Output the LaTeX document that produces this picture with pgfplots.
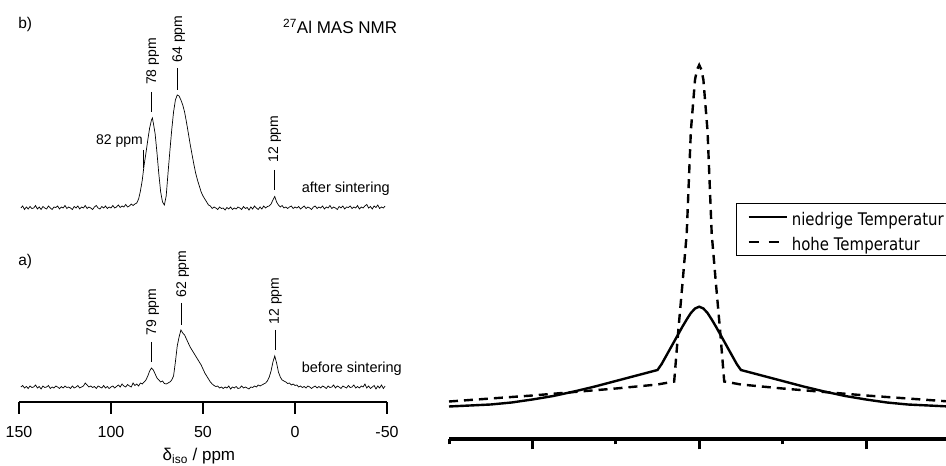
\documentclass[border=0pt]{standalone}
\usepackage{fontspec}
\setmainfont{Liberation Sans}
\newfontfamily\legfont[FakeStretch=0.86]{DejaVu Sans}
\usepackage{pgfplots}
\usepackage{pgfplotstable}
\pgfplotsset{compat=1.18}
\pgfplotsset{
  legsolid/.style={legend image code/.code={\draw[##1] (0pt,0pt) -- (38pt,0pt);}},
  legdash/.style={legend image code/.code={\draw[##1, dash pattern=on 10pt off 10pt] (0pt,0pt) -- (38pt,0pt);}},
}

% b) after sintering, heights in pt above the axis line
\pgfplotstableread{
ppm I
149 194
148 196
147 192.5
146 195
145 193
144 195.5
143 193.5
142 194
141 196.5
140 193
139 195
138 192.5
137 195.5
136 194
135 193
134 196
133 194
132 192.5
131 195
130 194.5
129 196
128 193
127 195
126 194
125 196.5
124 193.5
123 195
122 194
121 192.5
120 195.5
119 194
118 196
117 193
116 195
115 194
114 196.5
113 193.5
112 195
111 194
110 192.5
109 195
108 196.5
107 194
106 193
105 195.5
104 194
103 196
102 193.5
101 195
100 194
99 196.5
98 194
97 195
96 197
95 194.5
94 196
93 195
92 197.5
91 195
90 196
89 198
88 196.5
87 198
86 199
85 203
84 211
83 222
82 237
81 249
80 262
79 274
78 282
77.5 284
77 279
76 268
75 249
74 228
73 210
72 200
71 197
70 206
69 229
68 251
67 272
66 290
65 302
64 307
63 306
62 302
61 297
60 290
59 280
58 269
57 258
56 248
55 238
54 229
53 222
52 216
51 210
50 206
49 203
48 200
47 197
46 196
45 193.5
44 195
43 194
42 192.5
41 195
40 193.5
39 194
38 192
37 194.5
36 193
35 195
34 192.5
33 194
32 193
31 195
30 194
29 192.5
28 195.5
27 193.5
26 194.5
25 192
24 195
23 193
22 196
21 194
20 192.5
19 195
18 193
17 196
16 194
15 195.5
14 196
13 198
12 202
11 205.5
10 200
9 197
8 195
7 196.5
6 194
5 195
4 193.5
3 195
2 196
1 193.5
0 195
-1 194
-2 195.5
-3 193
-4 194.5
-5 196
-6 193.5
-7 195
-8 194
-9 192.5
-10 195
-11 196
-12 193.5
-13 195
-14 194
-15 196
-16 193
-17 195
-18 194
-19 196.5
-20 193.5
-21 195
-22 194
-23 192.5
-24 195.5
-25 194
-26 196
-27 193
-28 195
-29 194.5
-30 196
-31 193.5
-32 195
-33 194
-34 196.5
-35 193
-36 195
-37 194
-38 196
-39 197.5
-40 194
-41 195.5
-42 193
-43 196
-44 194.5
-45 197
-46 193.5
-47 195
-48 194
-49 196
}\spectrumB

% a) before sintering
\pgfplotstableread{
ppm I
149 15
148 16.5
147 14
146 15.5
145 13.5
144 16
143 14.5
142 15
141 17
140 14
139 15.5
138 13
137 16
136 14.5
135 15
134 16.5
133 13.5
132 15
131 14
130 16
129 15
128 13.5
127 15.5
126 14
125 16
124 14.5
123 15
122 13.5
121 16
120 14
119 15
118 16.5
117 14
116 15
115 16
114 19
113 17
112 15
111 16
110 14.5
109 15.5
108 13.5
107 16
106 15
105 14
104 16.5
103 14
102 15.5
101 13.5
100 15
99 16
98 14
97 15.5
96 17
95 15
94 18
93 16
92 15
91 17.5
90 16
89 15
88 19
87 16.5
86 18
85 16
84 19
83 18
82 20
81 22
80 26
79 31
78 34
77 32
76 28
75 24
74 22
73 20
72 21
71 18.5
70 18
69 19
68 20
67 22
66 26
65 40
64 56
63 65
62 72
61 69
60 67
59 63
58 59
57 55
56 52
55 49
54 46
53 43
52 40
51 37
50 33
49 29
48 26
47 23
46 20
45 18
44 16.5
43 15.5
42 16
41 14
40 15
39 13.5
38 15
37 14
36 16
35 13
34 15
33 14
32 15.5
31 13.5
30 14
29 16
28 14
27 15
26 14
25 13
24 15
23 14.5
22 16
21 15
20 17
19 16
18 17
17 18
16 19
15 21
14 25
13 31
12 40
11 46
10 39
9 30
8 25
7 22
6 21
5 20
4 18.5
3 19
2 17
1 18
0 16.5
-1 17
-2 15
-3 16
-4 14.5
-5 15.5
-6 14
-7 16
-8 15
-9 13.5
-10 15
-11 16
-12 14
-13 15.5
-14 14
-15 16
-16 15
-17 13.5
-18 16
-19 14.5
-20 15
-21 17
-22 14
-23 16
-24 15
-25 13.5
-26 16
-27 15
-28 14
-29 16.5
-30 14.5
-31 15
-32 17
-33 14
-34 15.5
-35 14
-36 16
-37 15
-38 18
-39 14
-40 16
-41 13.5
-42 15
-43 16.5
-44 13
-45 16
-46 14
-47 17
-48 13.5
-49 16
}\spectrumA

% right panel: low temperature (solid)
\pgfplotstableread{
x y
-3 33
-2.75 34
-2.5 35
-2.25 37
-2 40
-1.75 43.5
-1.5 48
-1.25 53
-1 58.5
-0.75 64
-0.5 69.5
-0.45 75.5
-0.4 83
-0.35 90.5
-0.3 98
-0.25 105.5
-0.2 113
-0.15 120
-0.1 126.5
-0.05 131
0 132.8
0.05 131
0.1 126.5
0.15 120
0.2 113
0.25 105.5
0.3 98
0.35 90.5
0.4 83
0.45 75.5
0.5 69.5
0.75 64
1 58.5
1.25 53
1.5 48
1.75 43.5
2 40
2.25 37
2.5 35
2.75 34
3 33
}\lowT

% right panel: high temperature (dashed)
\pgfplotstableread{
x y
-3 38
-2.5 41
-2 44
-1.5 47.5
-1 51
-0.5 55
-0.3 58
-0.25 109.5
-0.2 156.5
-0.15 205.5
-0.1 308.5
-0.05 360
-0.025 370
0 374.5
0.025 370
0.05 360
0.1 308.5
0.15 205.5
0.2 156.5
0.25 109.5
0.3 58
0.5 55
1 51
1.5 47.5
2 44
2.5 41
3 38
}\highT

\begin{document}
\begin{tikzpicture}[x=1pt,y=1pt]

\begin{axis}[
  scale only axis, width=368pt, height=392pt,
  at={(19pt,64pt)}, anchor=south west,
  xmin=-50, xmax=150, ymin=0, ymax=392, x dir=reverse,
  axis x line=bottom, axis y line=none,
  x axis line style={-, line width=1.3pt},
  xtick={-50,0,50,100,150}, xticklabels={-50,0,50,100,150},
  tick align=outside, major tick length=12pt,
  xtick style={line width=1.3pt, black},
  xticklabel style={font=\fontsize{16}{19}\selectfont, inner sep=0pt, anchor=north, yshift=-12.5pt},
  clip=false,
]
\addplot[black, line width=0.7pt, mark=none] table[x=ppm, y=I] {\spectrumB};
\addplot[black, line width=0.7pt, mark=none] table[x=ppm, y=I] {\spectrumA};

\begin{scope}[every node/.style={font=\fontsize{14}{16}\selectfont, inner sep=0pt}]
  % b)
  \draw[line width=0.7pt] (axis cs:77.9,310) -- (axis cs:77.9,290);
  \node[rotate=90, anchor=base] at (axis cs:75.5,340.5) {78 ppm};
  \draw[line width=0.7pt] (axis cs:63.75,334) -- (axis cs:63.75,312);
  \node[rotate=90, anchor=base] at (axis cs:61.4,363) {64 ppm};
  \draw[line width=0.7pt] (axis cs:82.45,252) -- (axis cs:82.45,234);
  \node[anchor=base east] at (axis cs:82.6,257) {82 ppm};
  \draw[line width=0.7pt] (axis cs:11.4,232) -- (axis cs:11.4,212);
  \node[rotate=90, anchor=base] at (axis cs:9.2,263) {12 ppm};
  % a)
  \draw[line width=0.7pt] (axis cs:77.9,60) -- (axis cs:77.9,40);
  \node[rotate=90, anchor=base] at (axis cs:75.5,90) {79 ppm};
  \draw[line width=0.7pt] (axis cs:61.6,99) -- (axis cs:61.6,77);
  \node[rotate=90, anchor=base] at (axis cs:59.2,128) {62 ppm};
  \draw[line width=0.7pt] (axis cs:10.9,72) -- (axis cs:10.9,52);
  \node[rotate=90, anchor=base] at (axis cs:8.7,101) {12 ppm};
\end{scope}
\begin{scope}[every node/.style={font=\fontsize{14.5}{17}\selectfont, inner sep=0pt}]
  \node[anchor=base west] at (axis cs:-3.6,209) {after sintering};
  \node[anchor=base west] at (axis cs:-3.6,29) {before sintering};
\end{scope}
\begin{scope}[every node/.style={font=\fontsize{15.5}{18}\selectfont, inner sep=0pt}]
  \node[anchor=base west] at (axis cs:150.5,373) {b)};
  \node[anchor=base west] at (axis cs:150.5,136) {a)};
\end{scope}
\begin{scope}[every node/.style={font=\fontsize{17}{20}\selectfont, inner sep=0pt}]
  \node[anchor=base west] at (axis cs:6.5,368.7) {\textsuperscript{27}Al MAS NMR};
  \node[anchor=base] at (axis cs:52.2,-59) {δ\textsubscript{iso} / ppm};
\end{scope}
\end{axis}

\begin{axis}[
  scale only axis, width=500.4pt, height=400pt,
  at={(449pt,26.5pt)}, anchor=south west,
  xmin=-3, xmax=3, ymin=0, ymax=400,
  axis x line=bottom, axis y line=none,
  x axis line style={-, line width=4pt},
  xtick={-2,0,2}, minor xtick={-3,-1,1,3}, xticklabels={},
  tick align=outside, major tick length=10pt, minor tick length=5pt,
  every tick/.style={line width=3pt, black},
  clip=false,
  legend style={at={(0.5735,0.591)}, anchor=north west, draw=black, line width=0.8pt,
    font=\legfont\fontsize{17.4}{20}\selectfont, inner xsep=11pt, inner ysep=1pt,
    row sep=0pt, column sep=0pt,
    nodes={inner sep=0pt, text height=21pt, text depth=4pt}},
  legend cell align=left,
]
\addplot[black, line width=2.4pt, mark=none, legsolid] table[x=x, y=y] {\lowT};
\addlegendentry{\hspace{4pt}niedrige Temperatur}
\addplot[black, line width=2.4pt, mark=none, dash pattern=on 9pt off 6pt, legdash] table[x=x, y=y] {\highT};
\addlegendentry{\hspace{4pt}hohe Temperatur}
\end{axis}

\pgfresetboundingbox
\path[use as bounding box] (0,0) rectangle (946,466);
\end{tikzpicture}
\end{document}
